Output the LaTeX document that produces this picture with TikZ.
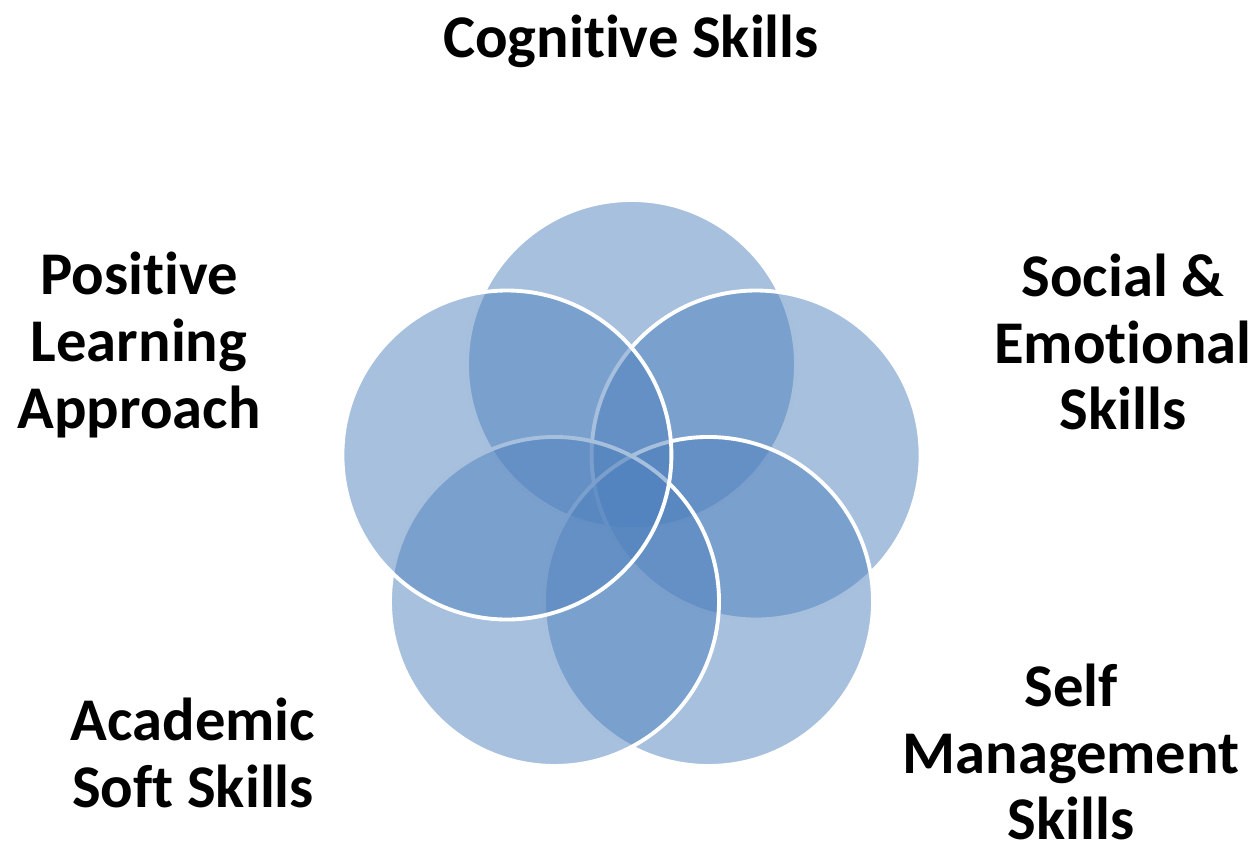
\documentclass[tikz,border=0pt]{standalone}
\usepackage{fontspec}
\setmainfont{Carlito}[RawFeature={-liga}]
\usepackage{xcolor}
\usetikzlibrary{calc, positioning}
\definecolor{vennblue}{RGB}{79,129,189}
\tikzset{
    venn/.style={fill=vennblue, fill opacity=0.5, draw=white, draw opacity=1, line width=2.2pt},
    skill/.style={font=\fontsize{34.5}{38}\selectfont\bfseries, align=center, text=black, inner sep=0pt}
}

\begin{document}
\begin{tikzpicture}
    \useasboundingbox (0,0) rectangle (25.12,16.86);
    \coordinate (C) at (12.63,6.95);
    
    \coordinate (cogC) at ($(C)+(90:2.62)$);
    \coordinate (socC) at ($(C)+(18:2.62)$);
    \coordinate (selfC) at ($(C)+(-54:2.62)$);
    \coordinate (acadC) at ($(C)+(-126:2.62)$);
    \coordinate (posC) at ($(C)+(162:2.62)$);
    
    % Circles, clockwise from the top
    \draw[venn] (cogC) circle (3.29);
    \draw[venn] (socC) circle (3.29);
    \draw[venn] (selfC) circle (3.29);
    \draw[venn] (acadC) circle (3.29);
    \draw[venn] (posC) circle (3.29);
    
    % Labels
    \node[skill] (cog) at (12.62,16.04) {Cognitive Skills};
    \node[skill] (pos) at (2.78,9.96) {Positive\\Learning\\Approach};
    \node[skill] (soc) at (22.46,10.02) {Social \&\\Emotional\\Skills};
    \node[skill] (acad) at (3.86,1.8) {Academic\\Soft Skills};
    \node[skill] (self) at (21.42,1.82) {Self\\Management\\Skills};
\end{tikzpicture}
\end{document}
